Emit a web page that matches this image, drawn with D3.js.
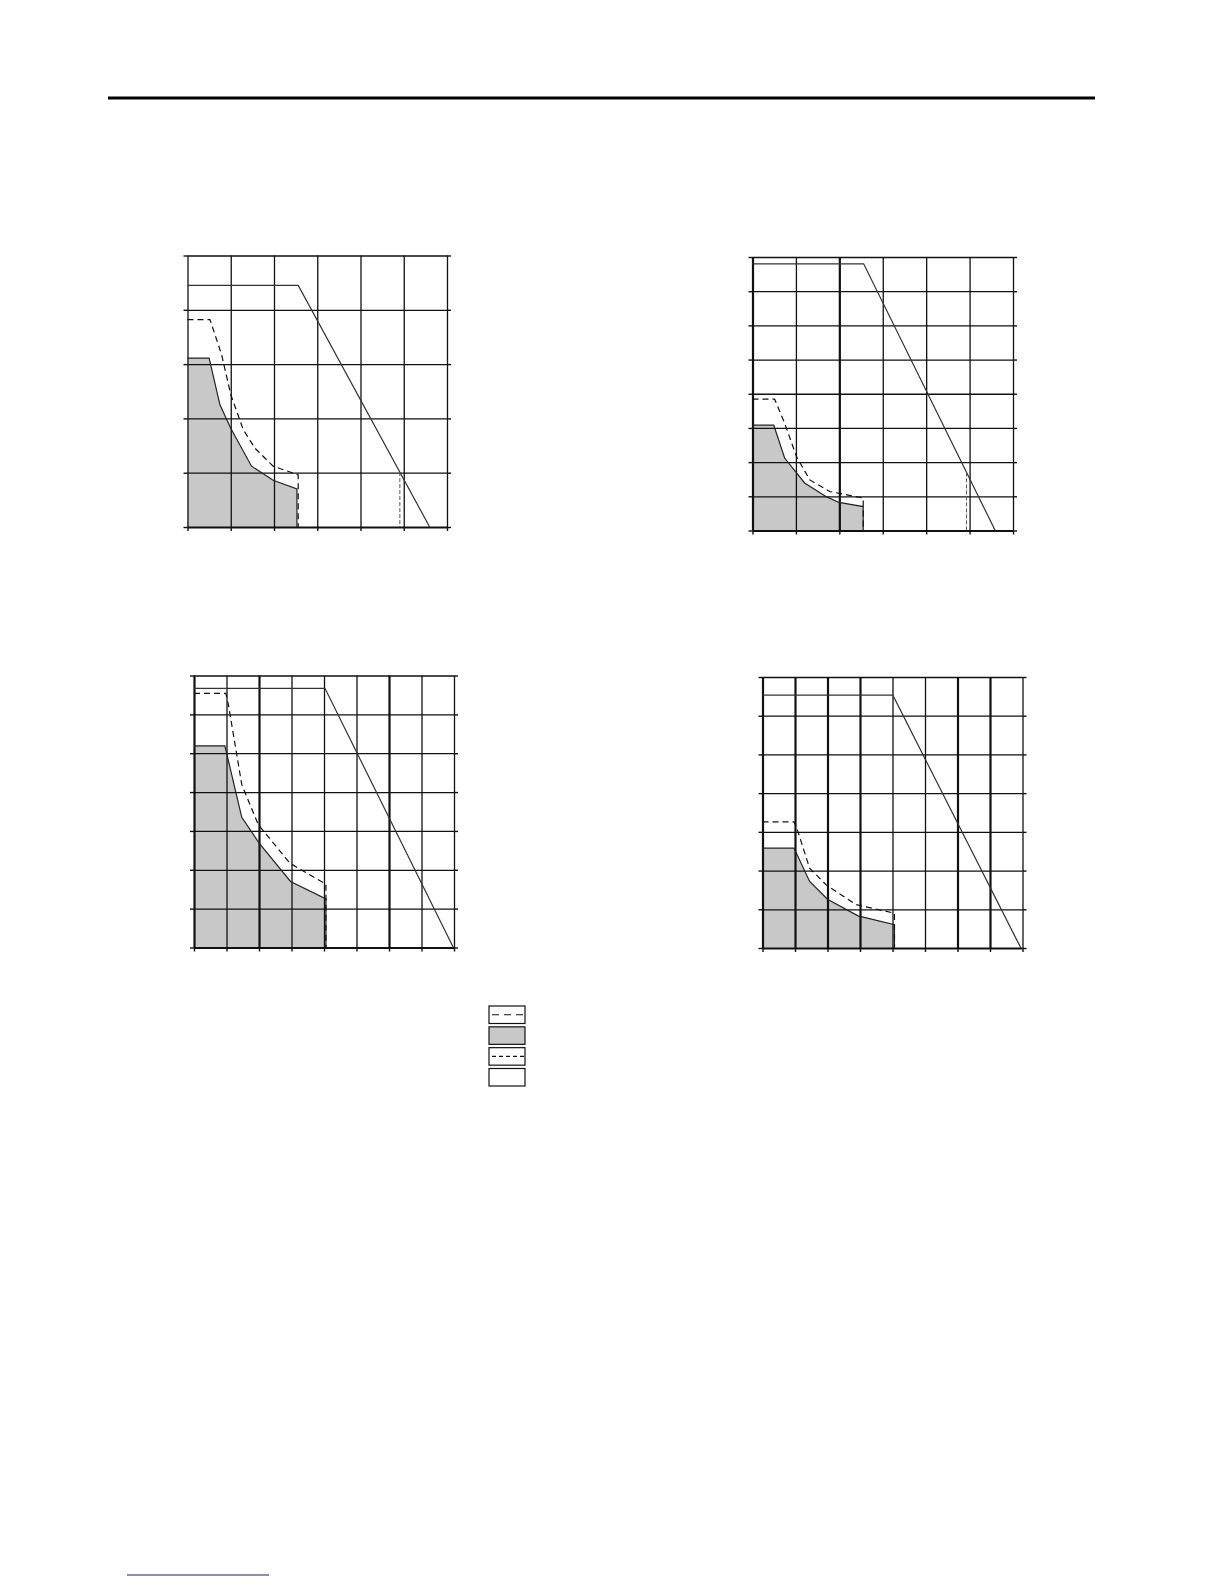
<!DOCTYPE html>
<html>
<head>
<meta charset="utf-8">
<script src="https://cdn.jsdelivr.net/npm/d3@7"></script>
<style>
  body { margin: 0; background: #fff; }
  svg { display: block; }
  .domain { display: none; }
</style>
</head>
<body>
<div id="page"></div>
<script>
// tick values for the two kinds of grid
var xTicks6 = [0, 1, 2, 3, 4, 5, 6]
var xTicks8 = [0, 1, 2, 3, 4, 5, 6, 7, 8]
var yTicks5 = [0, 1, 2, 3, 4, 5]
var yTicks7 = [0, 1, 2, 3, 4, 5, 6, 7]
var yTicks8 = [0, 1, 2, 3, 4, 5, 6, 7, 8]

// chart 1 (top left)
var limit1 = [[0, 4.45], [2.56, 4.45], [5.6, 0]]
var peak1 = [[0, 3.82], [0.52, 3.82], [0.79, 3.17], [1.0, 2.44], [1.29, 1.79], [1.56, 1.45], [1.98, 1.12], [2.56, 0.96], [2.56, 0]]
var cont1 = [[0, 3.11], [0.5, 3.11], [0.75, 2.25], [1.0, 1.82], [1.48, 1.12], [1.98, 0.86], [2.53, 0.70], [2.53, 0]]
var cut1 = 4.91

// chart 2 (top right)
var limit2 = [[0, 7.8], [2.56, 7.8], [5.59, 0]]
var peak2 = [[0, 3.84], [0.51, 3.84], [0.74, 3.14], [1.01, 2.17], [1.32, 1.48], [1.78, 1.14], [2.55, 0.95], [2.55, 0]]
var cont2 = [[0, 3.08], [0.49, 3.08], [0.74, 2.12], [1.2, 1.39], [1.7, 0.99], [1.99, 0.82], [2.55, 0.70], [2.55, 0]]
var cut2 = 4.93

// chart 3 (bottom left)
var limit3 = [[0, 6.67], [4.03, 6.67], [7.98, 0]]
var peak3 = [[0, 6.54], [0.98, 6.54], [1.06, 6.24], [1.47, 4.19], [1.98, 3.16], [2.95, 2.17], [4.06, 1.63], [4.06, 0]]
var cont3 = [[0, 5.19], [0.95, 5.19], [1.47, 3.35], [2.01, 2.68], [2.97, 1.70], [4.06, 1.25], [4.06, 0]]

// chart 4 (bottom right)
var limit4 = [[0, 6.53], [4.01, 6.53], [7.95, 0]]
var peak4 = [[0, 3.26], [0.97, 3.26], [1.04, 3.14], [1.45, 2.06], [1.96, 1.63], [2.88, 1.12], [4.06, 0.9], [4.06, 0]]
var cont4 = [[0, 2.58], [0.97, 2.58], [1.45, 1.72], [2.0, 1.26], [2.94, 0.83], [4.06, 0.6], [4.06, 0]]

// legend entries, top to bottom
var legendKeys = ["peak", "continuous", "cut", "limit"]

var width = 1224
var height = 1584

var svg = d3.select("#page")
  .append("svg")
  .attr("width", width)
  .attr("height", height)

// page rules
svg.append("line")
  .attr("x1", 108).attr("x2", 1095)
  .attr("y1", 98).attr("y2", 98)
  .style("stroke", "#000")
  .style("stroke-width", 3)

svg.append("line")
  .attr("x1", 127).attr("x2", 269)
  .attr("y1", 1575).attr("y2", 1575)
  .style("stroke", "#1c1c78")
  .style("stroke-width", 1.2)

var charts = [
  { left: 187.5, right: 447, top: 255.5, bottom: 527, xT: xTicks6, yT: yTicks5,
    limit: limit1, peak: peak1, cont: cont1, cut: cut1, thickX: [] },
  { left: 752.5, right: 1013, top: 257, bottom: 530.5, xT: xTicks6, yT: yTicks8,
    limit: limit2, peak: peak2, cont: cont2, cut: cut2, thickX: [0, 2] },
  { left: 194, right: 454, top: 675.5, bottom: 947.5, xT: xTicks8, yT: yTicks7,
    limit: limit3, peak: peak3, cont: cont3, cut: null, thickX: [0, 2, 6] },
  { left: 762.5, right: 1022.5, top: 677, bottom: 948, xT: xTicks8, yT: yTicks7,
    limit: limit4, peak: peak4, cont: cont4, cut: null, thickX: [0, 1, 2, 3, 6, 7] }
]

charts.forEach(function(c) {
  var x = d3.scaleLinear()
    .domain([0, d3.max(c.xT)])
    .range([c.left, c.right])
  var y = d3.scaleLinear()
    .domain([0, d3.max(c.yT)])
    .range([c.bottom, c.top])

  var g = svg.append("g")

  // shaded continuous region
  var area = d3.area()
    .x(d => x(d[0]))
    .y0(y(0))
    .y1(d => y(d[1]))
  g.append("path")
    .datum(c.cont)
    .attr("d", area)
    .style("fill", "#c8c8c8")
    .style("stroke", "none")

  // vertical grid
  g.append("g")
    .attr("transform", `translate(0,${c.bottom})`)
    .call(d3.axisBottom(x).tickValues(c.xT).tickSize(-(c.bottom - c.top)).tickFormat(""))
    .selectAll(".tick line")
    .style("stroke", "#111")
    .style("stroke-width", d => c.thickX.indexOf(d) >= 0 ? 2.2 : 1.3)

  // horizontal grid
  g.append("g")
    .attr("transform", `translate(${c.left},0)`)
    .call(d3.axisLeft(y).tickValues(c.yT).tickSize(-(c.right - c.left)).tickFormat(""))
    .selectAll(".tick line")
    .style("stroke", "#111")
    .style("stroke-width", d => d === 0 ? 2 : 1.3)

  // outer tick marks
  g.append("g")
    .attr("transform", `translate(${c.left},0)`)
    .call(d3.axisLeft(y).tickValues(c.yT).tickSize(4).tickFormat(""))
    .selectAll(".tick line").style("stroke", "#111").style("stroke-width", 1.4)
  g.append("g")
    .attr("transform", `translate(${c.right},0)`)
    .call(d3.axisRight(y).tickValues(c.yT).tickSize(4).tickFormat(""))
    .selectAll(".tick line").style("stroke", "#111").style("stroke-width", 1.4)
  g.append("g")
    .attr("transform", `translate(0,${c.bottom})`)
    .call(d3.axisBottom(x).tickValues(c.xT).tickSize(4).tickFormat(""))
    .selectAll(".tick line").style("stroke", "#111").style("stroke-width", 1.4)

  var line = d3.line()
    .x(d => x(d[0]))
    .y(d => y(d[1]))

  // outline of the continuous region
  g.append("path")
    .datum(c.cont)
    .attr("d", line)
    .style("fill", "none")
    .style("stroke", "#222")
    .style("stroke-width", 1.2)

  // peak curve
  g.append("path")
    .datum(c.peak)
    .attr("d", line)
    .style("fill", "none")
    .style("stroke", "#111")
    .style("stroke-width", 1.2)
    .style("stroke-dasharray", "6,4")

  // limit curve
  g.append("path")
    .datum(c.limit)
    .attr("d", line)
    .style("fill", "none")
    .style("stroke", "#333")
    .style("stroke-width", 1.2)

  // cut-off marker under the limit curve
  if (c.cut !== null) {
    var top = c.limit[1][1] * (c.limit[2][0] - c.cut) / (c.limit[2][0] - c.limit[1][0])
    g.append("line")
      .attr("x1", x(c.cut)).attr("x2", x(c.cut))
      .attr("y1", y(top)).attr("y2", y(0))
      .style("stroke", "#555")
      .style("stroke-width", 1)
      .style("stroke-dasharray", "4,2")
  }
})

// legend
var legendY = d3.scaleBand()
  .domain(legendKeys)
  .range([1006, 1086])
  .paddingInner(0.16)

var legend = svg.append("g")
  .selectAll("g")
  .data(legendKeys)
  .enter()
  .append("g")
  .attr("transform", d => `translate(489,${legendY(d)})`)

legend.append("rect")
  .attr("width", 36)
  .attr("height", legendY.bandwidth())
  .style("fill", d => d === "continuous" ? "#c8c8c8" : "#fff")
  .style("stroke", "#111")
  .style("stroke-width", 1.2)

legend.filter(d => d === "peak" || d === "cut")
  .append("line")
  .attr("x1", 3).attr("x2", 35)
  .attr("y1", legendY.bandwidth() / 2).attr("y2", legendY.bandwidth() / 2)
  .style("stroke", "#111")
  .style("stroke-width", 1.2)
  .style("stroke-dasharray", d => d === "peak" ? "7,5" : "4,3")
</script>
</body>
</html>
